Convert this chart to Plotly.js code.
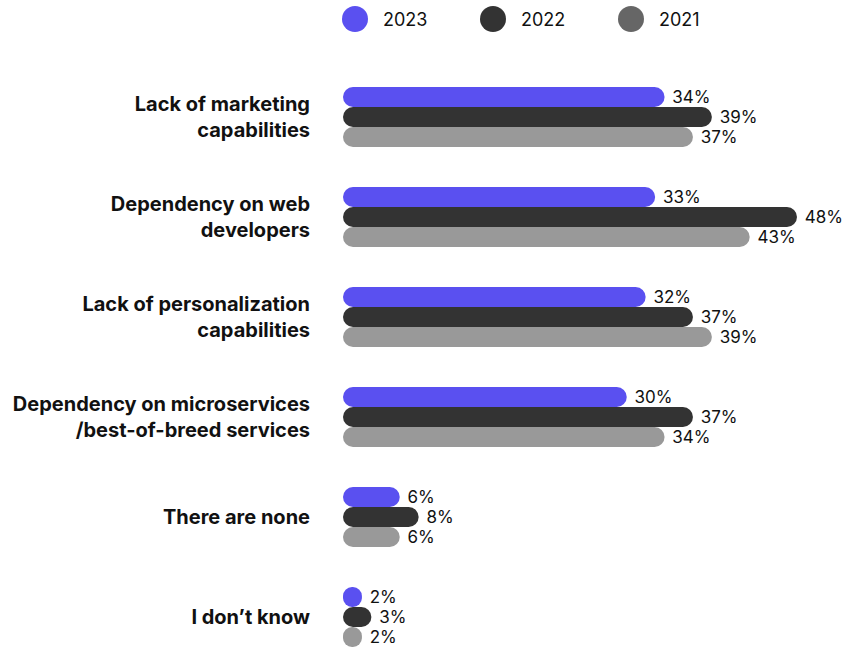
<!DOCTYPE html>
<html>
<head>
<meta charset="utf-8">
<script src="https://cdn.plot.ly/plotly-3.0.1.min.js"></script>
<style>html,body{margin:0;padding:0;background:#fff;}#chart{width:849px;height:647px;}</style>
</head>
<body>
<div id="chart"></div>
<script>
const categories = [
  "Lack of marketing<br>capabilities",
  "Dependency on web<br>developers",
  "Lack of personalization<br>capabilities",
  "Dependency on microservices<br>/best-of-breed services",
  "There are none",
  "I don\u2019t know"
];
const years = ["2023", "2022", "2021"];
const v2023 = [34, 33, 32, 30, 6, 2];
const v2022 = [39, 48, 37, 37, 8, 3];
const v2021 = [37, 43, 39, 34, 6, 2];
const barColors = ["#5A50F0", "#333333", "#999999"];
const legendColors = ["#5A50F0", "#333333", "#666666"];

const series = [v2023, v2022, v2021];
const traces = series.map((vals, k) => ({
  type: "bar", orientation: "h", y: categories,
  x: vals, base: vals.map(() => 0),
  name: years[k],
  marker: {color: barColors[k], line: {width: 0}},
  text: vals.map(v => "\u00a0" + v + "%"), textposition: "outside",
  textfont: {family: "Inter, 'Noto Sans', sans-serif", size: 17, color: "#111111"},
  cliponaxis: false, hoverinfo: "skip", showlegend: false
}));

const shapes = [];
const annotations = [];
const legendOffsets = [0, 138, 276];
const legendY = (647 - 19) / 580;
years.forEach((yr, k) => {
  shapes.push({
    type: "circle", xref: "paper", yref: "paper",
    xsizemode: "pixel", ysizemode: "pixel",
    xanchor: 0, yanchor: legendY,
    x0: legendOffsets[k] - 1, x1: legendOffsets[k] + 25, y0: -13, y1: 13,
    fillcolor: legendColors[k], line: {width: 0}
  });
  annotations.push({
    xref: "paper", yref: "paper", x: 0, y: legendY,
    xshift: legendOffsets[k] + 38, xanchor: "left", yanchor: "middle",
    text: yr, showarrow: false,
    font: {family: "Inter, 'Noto Sans', sans-serif", size: 18, color: "#111111"}
  });
});

const layout = {
  width: 849, height: 647,
  margin: {l: 343, r: 0, t: 67, b: 0},
  paper_bgcolor: "#ffffff", plot_bgcolor: "#ffffff",
  barmode: "group", bargap: 0.4, bargroupgap: 0,
  barcornerradius: "50%",
  showlegend: false,
  xaxis: {range: [0, 53.5], visible: false, showgrid: false, zeroline: false, fixedrange: true},
  yaxis: {
    type: "category", range: [5.3, -0.5],
    showgrid: false, zeroline: false, showline: false,
    ticks: "", ticklabelstandoff: 32,
    tickfont: {family: "Inter, 'Noto Sans', sans-serif", size: 20, color: "#111111", weight: "bold"}
  },
  shapes: shapes,
  annotations: annotations
};

Plotly.newPlot("chart", traces, layout, {displayModeBar: false, staticPlot: true});
</script>
</body>
</html>
